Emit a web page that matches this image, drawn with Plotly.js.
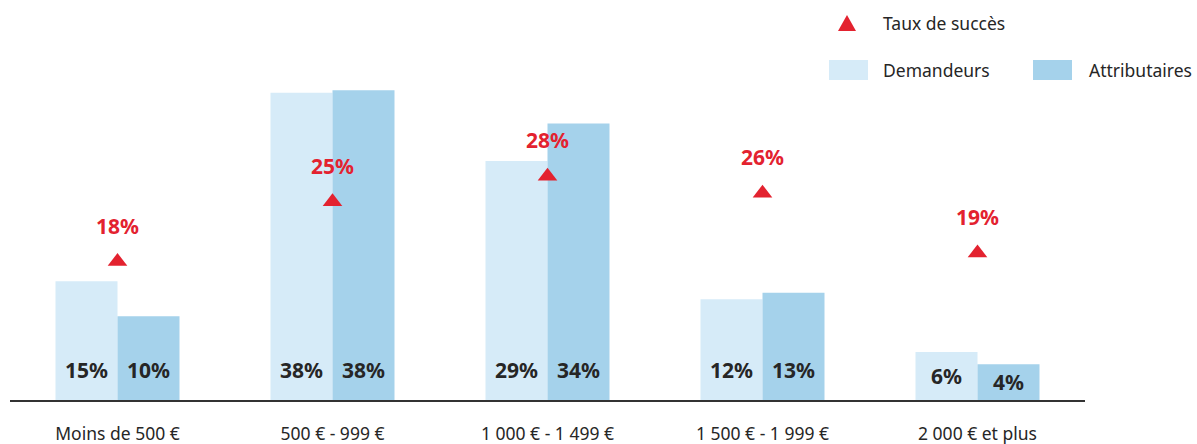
<!DOCTYPE html>
<html>
<head>
<meta charset="utf-8">
<script src="https://cdn.plot.ly/plotly-3.0.1.min.js"></script>
<style>html,body{margin:0;padding:0;background:#fff;}#chart{width:1197px;height:444px;}</style>
</head>
<body>
<div id="chart"></div>
<script>
// ---- data ----
const categories = ["Moins de 500 €", "500 € - 999 €", "1 000 € - 1 499 €", "1 500 € - 1 999 €", "2 000 € et plus"];
const demandeurs = [14.6, 37.8, 29.4, 12.4, 5.9];
const attributaires = [10.3, 38.1, 34.0, 13.2, 4.4];
const tauxSucces = [18, 25, 28, 26, 19];
const seriesNames = ["Demandeurs", "Attributaires", "Taux de succès"];

// ---- style ----
const FONT = "Noto Sans, Open Sans, sans-serif";
const C_DEM = "#D6EBF8";
const C_ATT = "#A5D2EB";
const C_RED = "#E3222F";
const C_TXT = "#262626";
const bargap = 0.4233;

const ML = 10, MR = 112, MT = 10, MB = 44, W = 1197, H = 444;
const PW = W - ML - MR, PH = H - MT - MB;
const px = v => (v - ML) / PW;       // pixel -> paper x
const py = v => (H - MB - v) / PH;   // pixel -> paper y

const traces = [
  {type: "bar", name: seriesNames[0], x: categories, y: demandeurs, marker: {color: C_DEM}, hoverinfo: "skip"},
  {type: "bar", name: seriesNames[1], x: categories, y: attributaires, marker: {color: C_ATT}, hoverinfo: "skip"},
  {type: "scatter", mode: "markers", name: seriesNames[2], x: categories, y: tauxSucces, yaxis: "y2",
   marker: {symbol: "triangle-up", size: 17, color: C_RED}, hoverinfo: "skip"}
];

const off = (1 - bargap) / 4;
const annotations = [];
categories.forEach((c, i) => {
  [[demandeurs[i], -off], [attributaires[i], off]].forEach(([v, o]) => {
    annotations.push({x: i + o, y: Math.min(v / 2, 3.7), xref: "x", yref: "y",
      text: "<b>" + Math.round(v) + "%</b>", showarrow: false, yanchor: "middle", xanchor: "center",
      font: {family: FONT, size: 21, color: C_TXT}});
  });
  annotations.push({x: i, y: tauxSucces[i], xref: "x", yref: "y2", yshift: 36,
    text: "<b>" + tauxSucces[i] + "%</b>", showarrow: false, yanchor: "middle", xanchor: "center",
    font: {family: FONT, size: 21, color: C_RED}});
});

// manual legend
const legFont = {family: FONT, size: 17.5, color: C_TXT};
annotations.push({xref: "paper", yref: "paper", x: px(881), y: py(23), xanchor: "left", yanchor: "middle", showarrow: false, text: seriesNames[2], font: legFont});
annotations.push({xref: "paper", yref: "paper", x: px(881), y: py(70), xanchor: "left", yanchor: "middle", showarrow: false, text: seriesNames[0], font: legFont});
annotations.push({xref: "paper", yref: "paper", x: px(1087), y: py(70), xanchor: "left", yanchor: "middle", showarrow: false, text: seriesNames[1], font: legFont});

const shapes = [
  {type: "rect", xref: "paper", yref: "paper", x0: px(829), x1: px(868), y0: py(80), y1: py(60), fillcolor: C_DEM, line: {width: 0}},
  {type: "rect", xref: "paper", yref: "paper", x0: px(1033), x1: px(1072), y0: py(80), y1: py(60), fillcolor: C_ATT, line: {width: 0}},
  {type: "path", xref: "paper", yref: "paper",
   path: `M${px(838)},${py(31)} L${px(856)},${py(31)} L${px(847)},${py(15)} Z`, fillcolor: C_RED, line: {width: 0}}
];

const layout = {
  width: W, height: H,
  margin: {l: ML, r: MR, t: MT, b: MB},
  paper_bgcolor: "#fff", plot_bgcolor: "#fff",
  showlegend: false,
  barmode: "group", bargap: bargap, bargroupgap: 0,
  font: {family: FONT, color: C_TXT},
  xaxis: {type: "category", showgrid: false, zeroline: false, showline: true, linecolor: "#333", linewidth: 1.5,
    ticks: "", ticklabelstandoff: 17, tickfont: {family: FONT, size: 17.5, color: C_TXT}, fixedrange: true},
  yaxis: {range: [0, PH / 8.13], visible: false, showgrid: false, zeroline: false, fixedrange: true},
  yaxis2: {range: [1.79, 1.79 + PH / 8.54], overlaying: "y", visible: false, showgrid: false, zeroline: false, fixedrange: true},
  annotations: annotations,
  shapes: shapes
};

Plotly.newPlot("chart", traces, layout, {displayModeBar: false, staticPlot: true});
</script>
</body>
</html>
